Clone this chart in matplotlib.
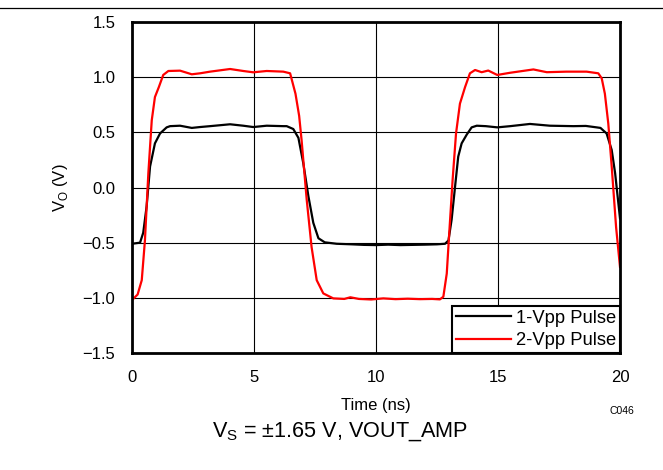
import matplotlib
matplotlib.use('Agg')
import matplotlib.pyplot as plt
from matplotlib.lines import Line2D

plt.rcParams['font.family'] = ['Liberation Sans', 'DejaVu Sans']
plt.rcParams['mathtext.fontset'] = 'custom'
plt.rcParams['mathtext.rm'] = 'Liberation Sans'

# 1-Vpp pulse (black)
t_1vpp = [0, 0.33, 0.46, 0.6, 0.74, 0.94, 1.15, 1.42, 1.56, 1.97, 2.45, 2.79, 3.2,
          4.02, 4.56, 4.97, 5.52, 6.2, 6.34, 6.61, 6.82, 7.02, 7.23, 7.43, 7.64,
          7.9, 8.39, 9.0, 9.5, 10.0, 10.5, 11.0, 11.5, 12.0, 12.5, 12.83, 12.97,
          13.1, 13.24, 13.37, 13.51, 13.72, 13.92, 14.13, 14.5, 14.97, 15.5,
          16.31, 17.13, 18.09, 18.6, 19.04, 19.2, 19.45, 19.66, 19.8, 20.0]
v_1vpp = [-0.51, -0.50, -0.41, -0.17, 0.19, 0.40, 0.49, 0.545, 0.556, 0.56, 0.54,
          0.548, 0.556, 0.573, 0.56, 0.548, 0.56, 0.556, 0.556, 0.53, 0.45, 0.22,
          -0.08, -0.32, -0.46, -0.497, -0.51, -0.515, -0.52, -0.522, -0.518,
          -0.522, -0.52, -0.518, -0.515, -0.51, -0.48, -0.29, 0.007, 0.28, 0.40,
          0.48, 0.545, 0.56, 0.556, 0.545, 0.556, 0.576, 0.56, 0.556, 0.558,
          0.545, 0.54, 0.49, 0.34, 0.13, -0.28]

# 2-Vpp pulse (red)
t_2vpp = [0, 0.23, 0.4, 0.53, 0.67, 0.81, 0.94, 1.1, 1.28, 1.49, 1.97, 2.45,
          2.79, 3.2, 4.02, 4.56, 4.97, 5.52, 6.2, 6.48, 6.7, 6.85, 6.95, 7.16,
          7.36, 7.57, 7.84, 8.25, 8.7, 8.95, 9.3, 9.8, 10.3, 10.8, 11.3, 11.8,
          12.3, 12.62, 12.76, 12.9, 13.0, 13.14, 13.28, 13.44, 13.65, 13.85,
          14.06, 14.33, 14.6, 14.97, 15.5, 16.45, 17.0, 17.8, 18.63, 19.11,
          19.25, 19.38, 19.52, 19.66, 19.84, 20.0]
v_2vpp = [-1.02, -0.97, -0.84, -0.48, 0.13, 0.61, 0.82, 0.91, 1.02, 1.056,
          1.059, 1.026, 1.035, 1.05, 1.074, 1.056, 1.044, 1.056, 1.05, 1.035,
          0.85, 0.65, 0.43, -0.11, -0.54, -0.84, -0.96, -1.005, -1.01, -0.995,
          -1.01, -1.015, -1.005, -1.012, -1.008, -1.012, -1.01, -1.014, -0.99,
          -0.78, -0.42, 0.07, 0.49, 0.76, 0.91, 1.035, 1.065, 1.045, 1.06, 1.02,
          1.04, 1.07, 1.045, 1.05, 1.05, 1.035, 0.99, 0.85, 0.58, 0.19, -0.36,
          -0.72]

x_ticks = [0, 5, 10, 15, 20]
y_ticks = [-1.5, -1.0, -0.5, 0.0, 0.5, 1.0, 1.5]

fig = plt.figure(figsize=(6.63, 4.70), dpi=100)
ax = fig.add_axes([132 / 663, 117 / 470, 488 / 663, 331 / 470])

ax.plot(t_1vpp, v_1vpp, color='black', linewidth=1.6, label='1-Vpp Pulse')
ax.plot(t_2vpp, v_2vpp, color='#ff0000', linewidth=1.6, label='2-Vpp Pulse')

ax.set_xlim(0, 20)
ax.set_ylim(-1.5, 1.5)
ax.set_xticks(x_ticks)
ax.set_xticklabels([str(t) for t in x_ticks])
ax.set_yticks(y_ticks)
ax.set_yticklabels([f'{v:.1f}'.replace('-', '\u2212') for v in y_ticks])
ax.tick_params(axis='both', length=0, labelsize=12)
ax.tick_params(axis='y', pad=12)
ax.tick_params(axis='x', pad=12.5)

ax.grid(True, color='black', linewidth=0.8)
ax.set_axisbelow(True)
for s in ax.spines.values():
    s.set_linewidth(2)
    s.set_color('black')

ax.set_xlabel('Time (ns)', fontsize=12, labelpad=9)
ax.set_ylabel(r'V$_\mathregular{O}$ (V)', fontsize=12, labelpad=9)

leg = ax.legend(loc='lower right', fontsize=13.2, handlelength=3.0,
                borderaxespad=0, fancybox=False, framealpha=1,
                handletextpad=0.3, borderpad=0.2, labelspacing=0.3)
leg.get_frame().set_edgecolor('black')
leg.get_frame().set_linewidth(1.5)

fig.text(622 / 663, 1 - 411 / 470, 'C046', fontsize=7.5, ha='center', va='center')
fig.text(340 / 663, 1 - 437 / 470, r'V$_\mathregular{S}$ = ±1.65 V, VOUT_AMP',
         fontsize=15.6, ha='center', va='baseline')

# thin rule across the top of the figure
fig.add_artist(Line2D([0, 1], [1 - 8 / 470, 1 - 8 / 470], transform=fig.transFigure,
                      color='black', linewidth=0.9))

fig.savefig('out.png', dpi=100)
